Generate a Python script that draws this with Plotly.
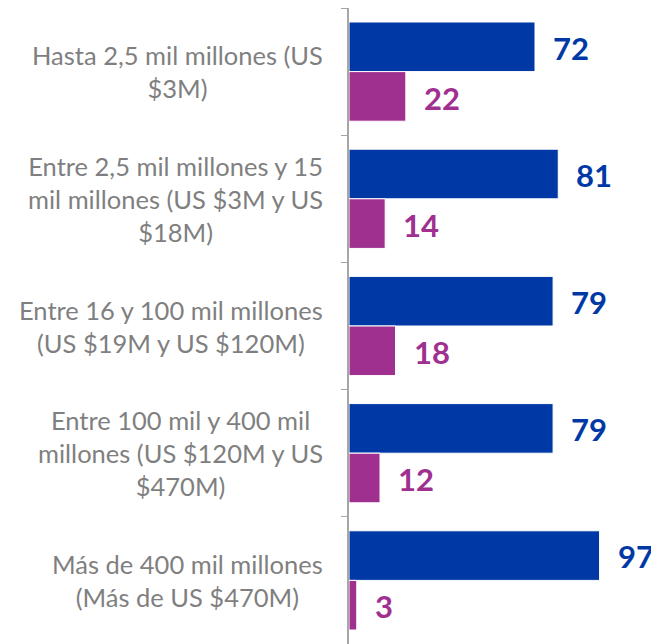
import plotly.graph_objects as go

categorias = [
    "Hasta 2,5 mil millones (US<br>$3M)",
    "Entre 2,5 mil millones y 15<br>mil millones (US $3M y US<br>$18M)",
    "Entre 16 y 100 mil millones<br>(US $19M y US $120M)",
    "Entre 100 mil y 400 mil<br>millones (US $120M y US<br>$470M)",
    "Más de 400 mil millones<br>(Más de US $470M)",
]
serie_azul = [72, 81, 79, 79, 97]
serie_morada = [22, 14, 18, 12, 3]

azul = "#0039A6"
morado = "#A0308F"
gris = "#7F7F7F"

fig = go.Figure()
fig.add_trace(go.Bar(y=categorias, x=serie_azul, orientation="h",
                     marker=dict(color=azul, line=dict(color="white", width=1))))
fig.add_trace(go.Bar(y=categorias, x=serie_morada, orientation="h",
                     marker=dict(color=morado, line=dict(color="white", width=1))))

anots = []
for cat, va, vm in zip(categorias, serie_azul, serie_morada):
    # etiqueta de categoria, centrada
    anots.append(dict(x=0, y=cat, xref="x", yref="y", text=cat, showarrow=False,
                      xanchor="right", yanchor="middle", align="center", xshift=-24,
                      font=dict(family="Lato", size=25.5, color=gris)))
    anots.append(dict(x=va, y=cat, xref="x", yref="y", text=f"<b>{va}</b>", showarrow=False,
                      xanchor="left", yanchor="middle", xshift=16, yshift=24,
                      font=dict(family="Lato", size=31, color=azul)))
    anots.append(dict(x=vm, y=cat, xref="x", yref="y", text=f"<b>{vm}</b>", showarrow=False,
                      xanchor="left", yanchor="middle", xshift=16, yshift=-26,
                      font=dict(family="Lato", size=31, color=morado)))

# la pagina deja 8px de margen en el body
fig.update_layout(
    width=651, height=636,
    margin=dict(l=341, r=0, t=0, b=0),
    barmode="group", bargap=0.22, bargroupgap=0,
    showlegend=False,
    plot_bgcolor="white", paper_bgcolor="white",
    annotations=anots,
    xaxis=dict(range=[0, 120], visible=False),
    yaxis=dict(autorange="reversed", showticklabels=False, showline=True,
               linecolor="#A6A6A6", linewidth=1.5, ticks="outside",
               tickson="boundaries", ticklen=6, tickcolor="#A6A6A6",
               showgrid=False, zeroline=False),
)

fig.write_html("out.html")
